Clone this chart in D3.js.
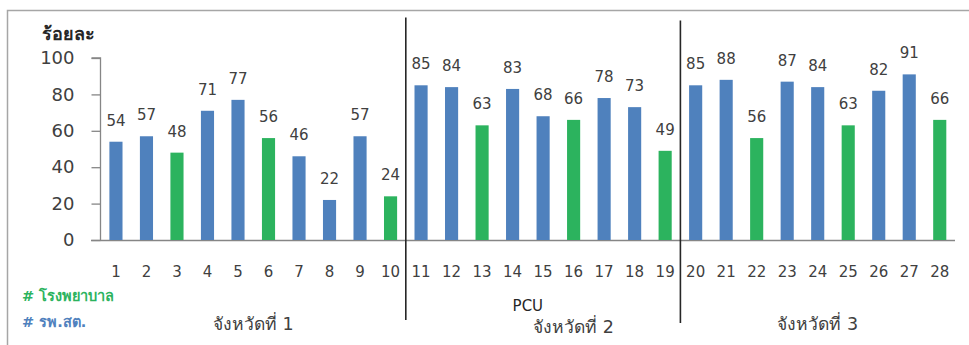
<!DOCTYPE html>
<html>
<head>
<meta charset="utf-8">
<script src="https://cdn.jsdelivr.net/npm/d3@7/dist/d3.min.js"></script>
<style>
  html, body { margin: 0; padding: 0; background: #fff; }
  svg { display: block; }
  text { font-family: Tahoma, "DejaVu Sans", "Noto Sans", sans-serif; }
</style>
</head>
<body>
<svg id="chart" width="969" height="345"></svg>
<script>
// Unit numbers along the x axis
const units = d3.range(1, 29);
// Percentage per unit
const values = [54, 57, 48, 71, 77, 56, 46, 22, 57, 24,
                85, 84, 63, 83, 68, 66, 78, 73, 49,
                85, 88, 56, 87, 84, 63, 82, 91, 66];
// Unit type: "h" = โรงพยาบาล, "p" = รพ.สต.
const types = ["p", "p", "h", "p", "p", "h", "p", "p", "p", "h",
               "p", "p", "h", "p", "p", "h", "p", "p", "h",
               "p", "p", "h", "p", "p", "h", "p", "p", "h"];
const yTicks = [0, 20, 40, 60, 80, 100];
// Province groups: first and last unit in each
const groups = [
  { name: "จังหวัดที่ 1", first: 1, last: 10 },
  { name: "จังหวัดที่ 2", first: 11, last: 19 },
  { name: "จังหวัดที่ 3", first: 20, last: 28 }
];
const legendItems = [
  { key: "h", label: "# โรงพยาบาล" },
  { key: "p", label: "# รพ.สต." }
];

const colors = { h: "#2cb35e", p: "#4f81bd" };
const textColor = "#404040";

const svg = d3.select("#chart");

// outer frame
svg.append("rect")
  .attr("x", 7.5).attr("y", 10.5)
  .attr("width", 980).attr("height", 360)
  .attr("fill", "none").attr("stroke", "#a6a6a6").attr("stroke-width", 1.5);

const x = d3.scaleBand()
  .domain(units)
  .range([100.7, 955])
  .paddingInner(0.57)
  .paddingOuter(0.285);

const y = d3.scaleLinear().domain([0, 100]).range([240, 58]);

// y axis
const yAxis = svg.append("g")
  .attr("transform", "translate(100.5,0)")
  .call(d3.axisLeft(y).tickValues(yTicks).tickSize(9).tickPadding(17));
yAxis.select(".domain").attr("stroke", "#868686").attr("stroke-width", 1.3)
  .attr("d", `M-9,${y(100)}H0V${y(0)}`);
yAxis.selectAll(".tick line").attr("stroke", "#868686").attr("stroke-width", 1.3);
yAxis.selectAll(".tick text")
  .attr("fill", textColor)
  .style("font-size", "18px");

// x axis baseline
svg.append("line")
  .attr("x1", 91).attr("x2", x.range()[1])
  .attr("y1", y(0) + 0.5).attr("y2", y(0) + 0.5)
  .attr("stroke", "#868686").attr("stroke-width", 1.3);

// x tick labels
svg.append("g").selectAll("text")
  .data(units)
  .join("text")
  .attr("x", d => x(d) + x.bandwidth() / 2)
  .attr("y", 277)
  .attr("text-anchor", "middle")
  .attr("fill", textColor)
  .style("font-size", "15px")
  .text(d => d);

// bars
const data = units.map((u, i) => ({ unit: u, value: values[i], type: types[i] }));
svg.append("g").selectAll("rect")
  .data(data)
  .join("rect")
  .attr("x", d => x(d.unit))
  .attr("y", d => y(d.value))
  .attr("width", x.bandwidth())
  .attr("height", d => y(0) - y(d.value))
  .attr("fill", d => colors[d.type]);

// value labels
svg.append("g").selectAll("text")
  .data(data)
  .join("text")
  .attr("x", d => x(d.unit) + x.bandwidth() / 2)
  .attr("y", d => y(d.value) - 16)
  .attr("text-anchor", "middle")
  .attr("fill", textColor)
  .style("font-size", "15px")
  .text(d => d.value);

// y title
svg.append("text")
  .attr("x", 42).attr("y", 40)
  .attr("fill", "#262626")
  .style("font-size", "18px").style("font-weight", "bold")
  .text("ร้อยละ");

// separators between provinces
const step = x.step();
[groups[0].last, groups[1].last].forEach((u, i) => {
  const sx = x(u) + x.bandwidth() / 2 + step / 2;
  svg.append("line")
    .attr("x1", sx).attr("x2", sx)
    .attr("y1", i === 0 ? 17.5 : 20.5).attr("y2", i === 0 ? 320 : 323)
    .attr("stroke", "#262626").attr("stroke-width", 1.6);
});

// province labels
const groupCenter = [
  (x(1) + x(10) + x.bandwidth()) / 2,
  x(16) + x.bandwidth() / 2,
  (x(20) + x(28) + x.bandwidth()) / 2
];
svg.append("g").selectAll("text")
  .data(groups)
  .join("text")
  .attr("x", (d, i) => groupCenter[i])
  .attr("y", (d, i) => i === 1 ? 333 : 330)
  .attr("text-anchor", "middle")
  .attr("fill", textColor)
  .style("font-size", "17.5px")
  .text(d => d.name);

svg.append("text")
  .attr("x", x(15) - step / 2 + x.bandwidth() / 2)
  .attr("y", 311)
  .attr("text-anchor", "middle")
  .attr("fill", "#262626")
  .style("font-size", "15px")
  .text("PCU");

// legend
svg.append("g").selectAll("text")
  .data(legendItems)
  .join("text")
  .attr("x", 22)
  .attr("y", (d, i) => 301 + i * 26)
  .attr("fill", d => colors[d.key])
  .style("font-size", "14.5px").style("font-weight", "bold")
  .text(d => d.label);
</script>
</body>
</html>
